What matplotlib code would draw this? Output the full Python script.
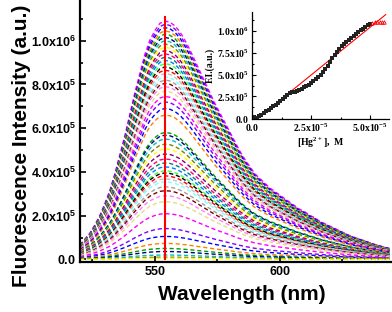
import matplotlib
matplotlib.use("Agg")
import matplotlib.pyplot as plt
import numpy as np

plt.rcParams['font.family'] = ['Liberation Sans', 'DejaVu Sans']
plt.rcParams['mathtext.fontset'] = 'custom'
plt.rcParams['mathtext.bf'] = 'Liberation Sans:bold'
plt.rcParams['mathtext.sf'] = 'Liberation Serif:bold'
plt.rcParams['mathtext.rm'] = 'Liberation Sans'

# emission spectra: wavelength grid and normalised shape of the spectra
wavelength = np.arange(520, 646, 2)
shape = [0.06, 0.085, 0.11, 0.145, 0.185, 0.235, 0.29, 0.36, 0.44, 0.52,
         0.61, 0.70, 0.78, 0.86, 0.92, 0.96, 0.99, 1.0, 0.995, 0.98,
         0.955, 0.92, 0.88, 0.835, 0.79, 0.745, 0.70, 0.655, 0.615, 0.575,
         0.535, 0.495, 0.455, 0.42, 0.39, 0.36, 0.34, 0.32, 0.30, 0.285,
         0.27, 0.255, 0.24, 0.225, 0.21, 0.20, 0.185, 0.175, 0.16, 0.15,
         0.14, 0.13, 0.12, 0.11, 0.10, 0.092, 0.085, 0.078, 0.07, 0.063,
         0.057, 0.051, 0.046]

# peak intensity of each spectrum
peaks = [1.09e6, 1.075e6, 1.06e6, 1.045e6, 1.03e6, 1.015e6, 1.0e6, 0.985e6,
         0.97e6, 0.955e6, 0.94e6, 0.925e6, 0.91e6, 0.895e6, 0.88e6, 0.865e6,
         0.85e6, 0.835e6, 0.82e6, 0.805e6, 0.79e6, 0.77e6, 0.745e6, 0.72e6,
         0.69e6, 0.66e6, 0.58e6, 0.568e6, 0.55e6, 0.527e6, 0.505e6, 0.482e6,
         0.459e6, 0.441e6, 0.423e6, 0.405e6, 0.395e6, 0.382e6, 0.368e6,
         0.355e6, 0.332e6, 0.314e6, 0.291e6, 0.264e6, 0.209e6, 0.141e6,
         0.105e6, 0.073e6, 0.05e6, 0.036e6, 0.02e6, 0.01e6, 0.005e6]

colors = ['#FF00FF', '#8000FF', '#0000FF', '#FF8000', '#00A000', '#000080',
          '#00C0C0', '#808000', '#FFFF00', '#800080', '#FF0080', '#008080',
          '#0080FF', '#40FF40', '#000000', '#FF0000', '#C0C0C0', '#80FFFF',
          '#A0A0A0', '#800000', '#FF80FF', '#E0E080']

peak_line_x = 554
peak_line_top = 1.11e6

main_yticks = [0, 2e5, 4e5, 6e5, 8e5, 1e6]
main_ylabels = [r'$\mathbf{0.0}$', r'$\mathbf{2.0x10^{5}}$', r'$\mathbf{4.0x10^{5}}$',
                r'$\mathbf{6.0x10^{5}}$', r'$\mathbf{8.0x10^{5}}$', r'$\mathbf{1.0x10^{6}}$']
main_xticks = [550, 600]

# inset: titration curve
conc = np.arange(0, 51) * 1e-6
fi = np.array([0.05, 0.08, 0.05, 0.2, 0.4, 0.6, 0.78, 0.95, 1.15, 1.35,
               1.55, 1.75, 1.98, 2.2, 2.45, 2.65, 2.88, 3.0, 3.05, 3.1,
               3.25, 3.4, 3.55, 3.7, 3.85, 4.05, 4.3, 4.5, 4.7, 5.0,
               5.3, 5.65, 6.05, 6.5, 6.9, 7.25, 7.6, 7.95, 8.25, 8.5,
               8.75, 8.95, 9.2, 9.45, 9.7, 9.9, 10.1, 10.3, 10.5, 10.7,
               10.85]) * 1e5
conc_sat = np.array([5.1, 5.2, 5.3, 5.4, 5.5, 5.6]) * 1e-5
fi_sat = np.array([10.95, 11.0, 11.05, 11.0, 11.05, 11.0]) * 1e5
fit_x = [0.25e-5, 5.66e-5]
fit_y = [0.0, 1.19e6]

inset_yticks = [0, 2.5e5, 5e5, 7.5e5, 1e6]
inset_ylabels = [r'$\mathsf{0.0}$', r'$\mathsf{2.5x10^{5}}$', r'$\mathsf{5.0x10^{5}}$',
                 r'$\mathsf{7.5x10^{5}}$', r'$\mathsf{1.0x10^{6}}$']
inset_xticks = [0, 2.5e-5, 5e-5]
inset_xlabels = [r'$\mathsf{0.0}$', r'$\mathsf{2.5x10^{-5}}$', r'$\mathsf{5.0x10^{-5}}$']

fig = plt.figure(figsize=(3.92, 3.12), dpi=100)
ax = fig.add_axes([80 / 392, 1 - 262 / 312, 1 - 80 / 392, 262 / 312])

shape = np.array(shape)
for i, p in enumerate(peaks):
    ax.plot(wavelength, p * shape, linestyle=(0, (3, 2)), lw=1.0,
            color=colors[i % len(colors)])
ax.plot([peak_line_x, peak_line_x], [0, peak_line_top], color='red', lw=1.5)

ax.set_xlim(520, 645)
ax.set_ylim(-1.2e4, 1.186e6)
ax.set_yticks(main_yticks)
ax.set_yticklabels(main_ylabels)
ax.set_yticks(np.arange(1e5, 1.2e6, 2e5), minor=True)
ax.set_xticks(main_xticks)
ax.set_xticks([525, 575, 625], minor=True)
ax.tick_params(which='both', direction='in', width=1.2, labelsize=9, pad=3)
ax.tick_params(which='major', length=4)
ax.tick_params(which='minor', length=2.5)
for s in ['top', 'right']:
    ax.spines[s].set_visible(False)
for s in ['left', 'bottom']:
    ax.spines[s].set_linewidth(1.6)
for lab in ax.get_xticklabels():
    lab.set_fontweight('bold')

fig.text(242 / 392, 1 - 295 / 312, 'Wavelength (nm)', fontsize=15, fontweight='bold',
         ha='center', va='center')
fig.text(22 / 392, 1 - 146 / 312, 'Fluorescence Intensity (a.u.)', fontsize=15,
         fontweight='bold', rotation=90, ha='center', va='center')

# inset
ins = fig.add_axes([252 / 392, 1 - 119 / 312, 137 / 392, 107 / 312])
ins.patch.set_alpha(0)
ins.plot(fit_x, fit_y, color='red', lw=0.8)
ins.plot(conc, fi, 's', color='#222222', ms=2.5, mew=0)
ins.plot(conc_sat, fi_sat, '^', color='red', ms=2.5, mfc='none', mew=0.6)
ins.set_xlim(0, 5.8e-5)
ins.set_ylim(-1e4, 1.22e6)
ins.set_yticks(inset_yticks)
ins.set_yticklabels(inset_ylabels)
ins.set_xticks(inset_xticks)
ins.set_xticklabels(inset_xlabels)
ins.set_xticks([1.25e-5, 3.75e-5], minor=True)
ins.set_yticks([1.25e5, 3.75e5, 6.25e5, 8.75e5, 1.125e6], minor=True)
ins.tick_params(which='both', direction='in', width=0.8, labelsize=7, pad=2)
ins.tick_params(which='major', length=3)
ins.tick_params(which='minor', length=1.5)
for s in ['top', 'right']:
    ins.spines[s].set_visible(False)
for s in ['left', 'bottom']:
    ins.spines[s].set_linewidth(0.9)
ins.set_xlabel(r'$\mathsf{[Hg^{2+}],\ M}$', fontsize=7, labelpad=1)
ins.set_ylabel('F.I.(a.u.)', fontsize=7, fontweight='bold', family='Liberation Serif',
               labelpad=2)

fig.savefig('out.png', dpi=100)
